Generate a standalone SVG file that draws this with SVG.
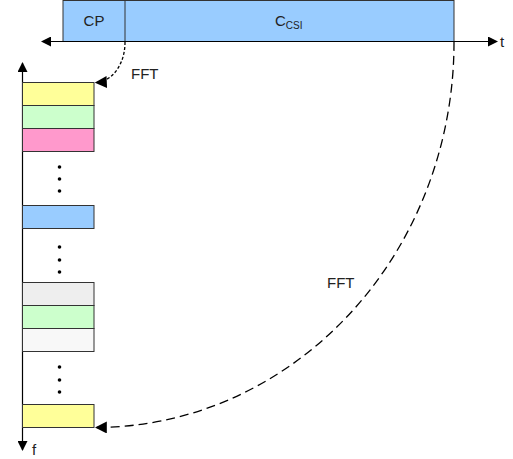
<svg xmlns="http://www.w3.org/2000/svg" width="513" height="459" viewBox="0 0 513 459">
<style>
text{font-family:"Liberation Sans",Arial,sans-serif;font-size:15px;fill:#222}
.b{stroke:#333;stroke-width:1}
.ax{stroke:#000;stroke-width:1.2;fill:none}
.d{stroke:#000;stroke-width:1.3;fill:none;stroke-dasharray:9,5}
.s{stroke:#000;stroke-width:1.3;fill:none;stroke-dasharray:3,2}
</style>
<defs>
<marker id="ar" viewBox="0 0 10 10" refX="9" refY="5" markerWidth="10" markerHeight="10" markerUnits="userSpaceOnUse" orient="auto-start-reverse"><path d="M0,0 L10,5 L0,10 Z" fill="#000"/></marker>
<marker id="ar2" viewBox="0 0 10 10" refX="9" refY="5" markerWidth="12" markerHeight="12" markerUnits="userSpaceOnUse" orient="auto"><path d="M0,0 L10,5 L0,10 Z" fill="#000"/></marker>
</defs>
<g id="symbol">
<rect class="b" x="63" y="0.5" width="391" height="41" fill="#99ccff"/>
<line class="b" x1="125" y1="0.5" x2="125" y2="41.5"/>
<text x="94" y="25.5" text-anchor="middle">CP</text>
<text x="275" y="26">C<tspan font-size="10" dy="2.5">CSI</tspan></text>
</g>
<g id="axes">
<line class="ax" x1="42" y1="41.5" x2="497" y2="41.5" marker-start="url(#ar)" marker-end="url(#ar)"/>
<text x="500" y="47">t</text>
<line class="ax" x1="22.5" y1="63" x2="22.5" y2="450" marker-start="url(#ar)" marker-end="url(#ar)"/>
<text x="32" y="455">f</text>
</g>
<g id="subcarriers">
<rect class="b" x="22.5" y="82.5" width="71.5" height="23" fill="#ffff99"/>
<rect class="b" x="22.5" y="105.5" width="71.5" height="23" fill="#ccffcc"/>
<rect class="b" x="22.5" y="128.5" width="71.5" height="23" fill="#ff99cc"/>
<rect class="b" x="22.5" y="205.5" width="71.5" height="23" fill="#99ccff"/>
<rect class="b" x="22.5" y="282.5" width="71.5" height="23" fill="#eeeeee"/>
<rect class="b" x="22.5" y="305.5" width="71.5" height="23" fill="#ccffcc"/>
<rect class="b" x="22.5" y="328.5" width="71.5" height="23" fill="#f8f8f8"/>
<rect class="b" x="22.5" y="404.5" width="71.5" height="23" fill="#ffff99"/>
</g>
<g id="dots" fill="#000">
<circle cx="59.5" cy="167" r="1.8"/><circle cx="59.5" cy="179" r="1.8"/><circle cx="59.5" cy="191" r="1.8"/>
<circle cx="59.5" cy="247" r="1.8"/><circle cx="59.5" cy="260" r="1.8"/><circle cx="59.5" cy="272" r="1.8"/>
<circle cx="59.5" cy="367" r="1.8"/><circle cx="59.5" cy="380" r="1.8"/><circle cx="59.5" cy="392" r="1.8"/>
</g>
<g id="connectors">
<path class="s" d="M125,42 A30,40 0 0 1 96,82.5" marker-end="url(#ar2)"/>
<path class="d" d="M454,42 A359,385 0 0 1 96,427.5" marker-end="url(#ar2)"/>
<text x="131" y="79">FFT</text>
<text x="327" y="288">FFT</text>
</g>
</svg>
